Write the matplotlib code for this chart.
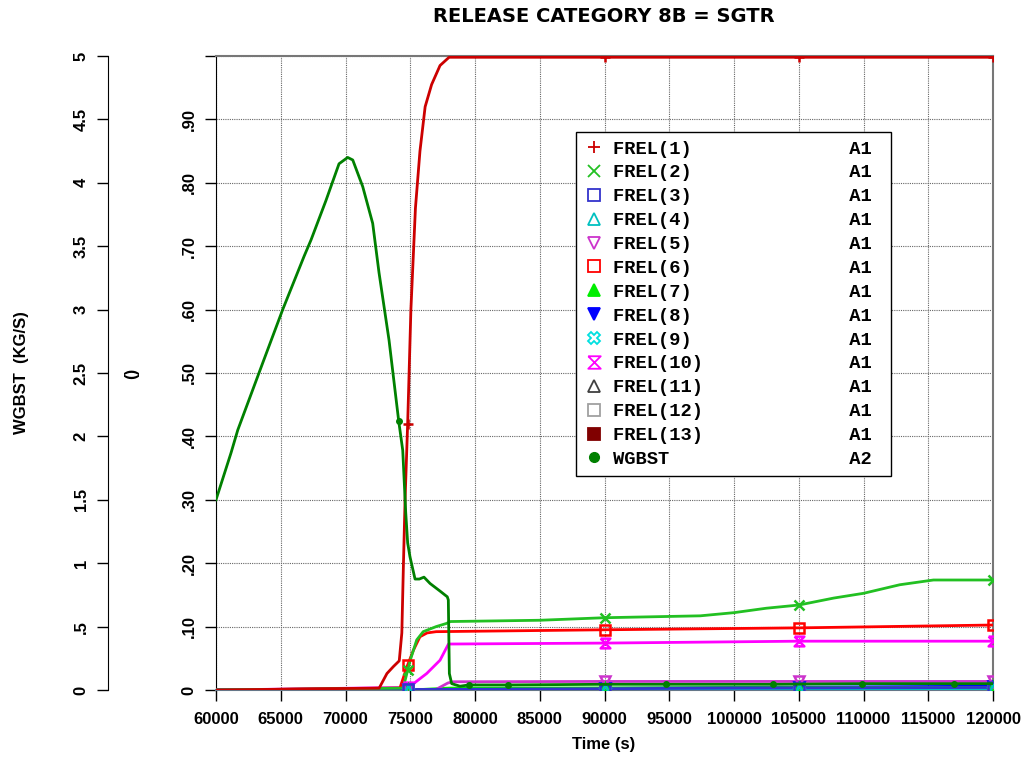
import numpy as np
import matplotlib
matplotlib.use('Agg')
import matplotlib.pyplot as plt
from matplotlib.lines import Line2D

plt.rcParams['font.family'] = ['Liberation Sans', 'DejaVu Sans']
plt.rcParams['font.weight'] = 'bold'

# release fractions FREL(n) vs time
t1 = [60000, 72600, 73200, 73700, 74150, 74350, 74470, 74600, 74800, 75050, 75400, 75750, 76150, 76650, 77300, 78000, 120000]
f1 = [0, 0.003, 0.026, 0.037, 0.046, 0.09, 0.195, 0.30, 0.42, 0.60, 0.76, 0.85, 0.92, 0.955, 0.985, 0.998, 0.998]

t2 = [60000, 74450, 75000, 75500, 76000, 77000, 77800, 78100, 85000, 90000, 97400, 100000, 102500, 105000, 107700, 110000, 112800, 115400, 120000]
f2 = [0, 0.003, 0.047, 0.079, 0.092, 0.100, 0.105, 0.108, 0.110, 0.114, 0.117, 0.122, 0.129, 0.134, 0.145, 0.1525, 0.166, 0.1735, 0.1735]

t3 = [60000, 78000, 100000, 120000]
f3 = [0, 0.001, 0.003, 0.004]

t4 = [60000, 120000]
f4 = [0, 0.001]

t5 = [60000, 77000, 77900, 78300, 90000, 120000]
f5 = [0, 0.001, 0.011, 0.013, 0.0135, 0.0135]

t6 = [60000, 74200, 74750, 75250, 75750, 76300, 77000, 90000, 105000, 120000]
f6 = [0, 0.003, 0.037, 0.063, 0.084, 0.090, 0.092, 0.095, 0.098, 0.1025]

t7 = [60000, 76000, 78000, 120000]
f7 = [0, 0.001, 0.003, 0.004]

t8 = [60000, 78000, 100000, 120000]
f8 = [0, 0.001, 0.004, 0.006]

t9 = [60000, 120000]
f9 = [0, 0.001]

t10 = [60000, 74700, 75000, 75250, 76270, 77300, 77950, 90000, 105000, 120000]
f10 = [0, 0.004, 0.008, 0.010, 0.026, 0.047, 0.0725, 0.074, 0.077, 0.077]

t11 = [60000, 120000]
f11 = [0, 0.0005]

t12 = [60000, 120000]
f12 = [0, 0.0005]

t13 = [60000, 120000]
f13 = [0, 0.002]

# gas flow WGBST (kg/s)
tw = [60000, 61160, 61680, 63610, 65150, 66800, 67340, 68490, 69500, 70170, 70560, 71330,
      72100, 72590, 73360, 74110, 74420, 74650, 74800, 74980, 75370, 75700, 76060, 76530,
      77300, 77860, 77940, 78020, 78200, 78840, 79540, 80000, 82550, 90000, 94750, 103000,
      109900, 117000, 120000]
w = [1.5, 1.87, 2.05, 2.58, 3.0, 3.42, 3.55, 3.86, 4.15, 4.2, 4.18, 3.97,
     3.68, 3.29, 2.76, 2.12, 1.89, 1.40, 1.16, 1.05, 0.875, 0.875, 0.89, 0.84,
     0.78, 0.735, 0.71, 0.13, 0.05, 0.03, 0.04, 0.04, 0.04, 0.045, 0.045, 0.045,
     0.05, 0.05, 0.05]
w_mark_t = [74110, 79540, 82550, 94750, 103000, 109900, 117000]

mark_t = [74800, 90000, 105000, 120000]

hourglass = [(-1, 1), (1, 1), (-1, -1), (1, -1), (-1, 1)]

series = [
    ('FREL(1)', t1, f1, '#cc0000', '+', 'none'),
    ('FREL(2)', t2, f2, '#22c022', 'x', 'none'),
    ('FREL(3)', t3, f3, '#3333cc', 's', 'none'),
    ('FREL(4)', t4, f4, '#00c0c0', '^', 'none'),
    ('FREL(5)', t5, f5, '#cc33cc', 'v', 'none'),
    ('FREL(6)', t6, f6, '#ff0000', 's', 'none'),
    ('FREL(7)', t7, f7, '#00ee00', '^', '#00ee00'),
    ('FREL(8)', t8, f8, '#0000ff', 'v', '#0000ff'),
    ('FREL(9)', t9, f9, '#00e0e0', 'X', 'none'),
    ('FREL(10)', t10, f10, '#ff00ff', hourglass, 'none'),
    ('FREL(11)', t11, f11, '#404040', '^', 'none'),
    ('FREL(12)', t12, f12, '#a0a0a0', 's', 'none'),
    ('FREL(13)', t13, f13, '#800000', 's', '#800000'),
]

fig = plt.figure(figsize=(10.22, 7.6), dpi=100)
W, H = 1022, 760
ax = fig.add_axes([216 / W, 1 - 690 / H, (993 - 216) / W, (690 - 56) / H])
ax2 = ax.twinx()

handles = []
for name, t, f, c, m, fc in reversed(series):
    ax.plot(t, f, color=c, lw=2, zorder=3)
    ax.plot(mark_t, np.interp(mark_t, t, f), ls='none', marker=m, ms=7,
            mec=c, mfc=fc, mew=1.8, zorder=4)

ax2.plot(tw, w, color='#008000', lw=2, zorder=3)
ax2.plot(w_mark_t, np.interp(w_mark_t, tw, w), ls='none', marker='o', ms=4,
         color='#008000', zorder=4)

ax.set_xlim(60000, 120000)
ax.set_ylim(0, 1)
ax2.set_ylim(0, 5)

tick_fs = 12

ax.set_xticks(np.arange(60000, 120001, 5000))
ax.set_xticklabels([str(v) for v in range(60000, 120001, 5000)])
ax.set_yticks(np.arange(0, 1.01, 0.1))
ax.set_yticklabels(['0', '.10', '.20', '.30', '.40', '.50', '.60', '.70', '.80', '.90', ''])
ax2.set_yticks(np.arange(0, 5.01, 0.5))
ax2.set_yticklabels(['0', '.5', '1', '1.5', '2', '2.5', '3', '3.5', '4', '4.5', '5'])

ax.grid(True, color='#666666', lw=0.8, ls=(0, (1, 1)))
ax.set_axisbelow(True)

ax.tick_params(axis='x', direction='out', length=8, width=1, labelsize=tick_fs, pad=8)
ax.tick_params(axis='y', direction='out', length=8, width=1, labelsize=tick_fs,
               labelrotation=90, pad=6)
for lab in ax.get_yticklabels():
    lab.set_va('center')

ax2.yaxis.set_ticks_position('left')
ax2.spines['left'].set_position(('axes', -108 / 777))
ax2.spines['right'].set_visible(False)
ax2.spines['top'].set_visible(False)
ax2.spines['bottom'].set_visible(False)
ax2.tick_params(axis='y', direction='out', length=8, width=1, labelsize=tick_fs,
                labelrotation=90, pad=6)
for lab in ax2.get_yticklabels():
    lab.set_va('center')

for s in ['top', 'right']:
    ax.spines[s].set_color('#777777')
    ax.spines[s].set_linewidth(1.5)
ax.spines['bottom'].set_color('#667788')
ax.spines['bottom'].set_linewidth(1.5)

fig.text(604 / W, 1 - 17 / H, 'RELEASE CATEGORY 8B = SGTR', ha='center', va='center',
         fontsize=14, fontweight='bold', family='DejaVu Sans')
fig.text(604 / W, 1 - 745 / H, 'Time (s)', ha='center', va='center', fontsize=tick_fs,
         fontweight='bold')
fig.text(22 / W, 1 - 373 / H, 'WGBST  (KG/S)', ha='center', va='center', rotation=90,
         fontsize=tick_fs, fontweight='bold')
fig.text(132 / W, 1 - 373 / H, '()', ha='center', va='center', rotation=90,
         fontsize=tick_fs, fontweight='bold')

# legend: marker + name, right column gives the axis
for name, t, f, c, m, fc in series:
    handles.append(Line2D([], [], ls='none', marker=m, ms=9, mec=c, mfc=fc, mew=1.3,
                          label=f'{name:<21}A1 '))
handles.append(Line2D([], [], ls='none', marker='o', ms=7, color='#008000',
                      label=f'{"WGBST":<21}A2 '))
leg = ax2.legend(handles=handles, loc='upper left', bbox_to_anchor=(576 / W, 1 - 132 / H),
                 bbox_transform=fig.transFigure, frameon=True, fancybox=False,
                 edgecolor='black', framealpha=1, handlelength=1, handletextpad=0.5,
                 labelspacing=0.36, borderpad=0.45, borderaxespad=0,
                 prop={'family': 'Liberation Mono', 'weight': 'bold', 'size': 13.5})
leg.get_frame().set_linewidth(1)

fig.savefig('out.png', dpi=100)
